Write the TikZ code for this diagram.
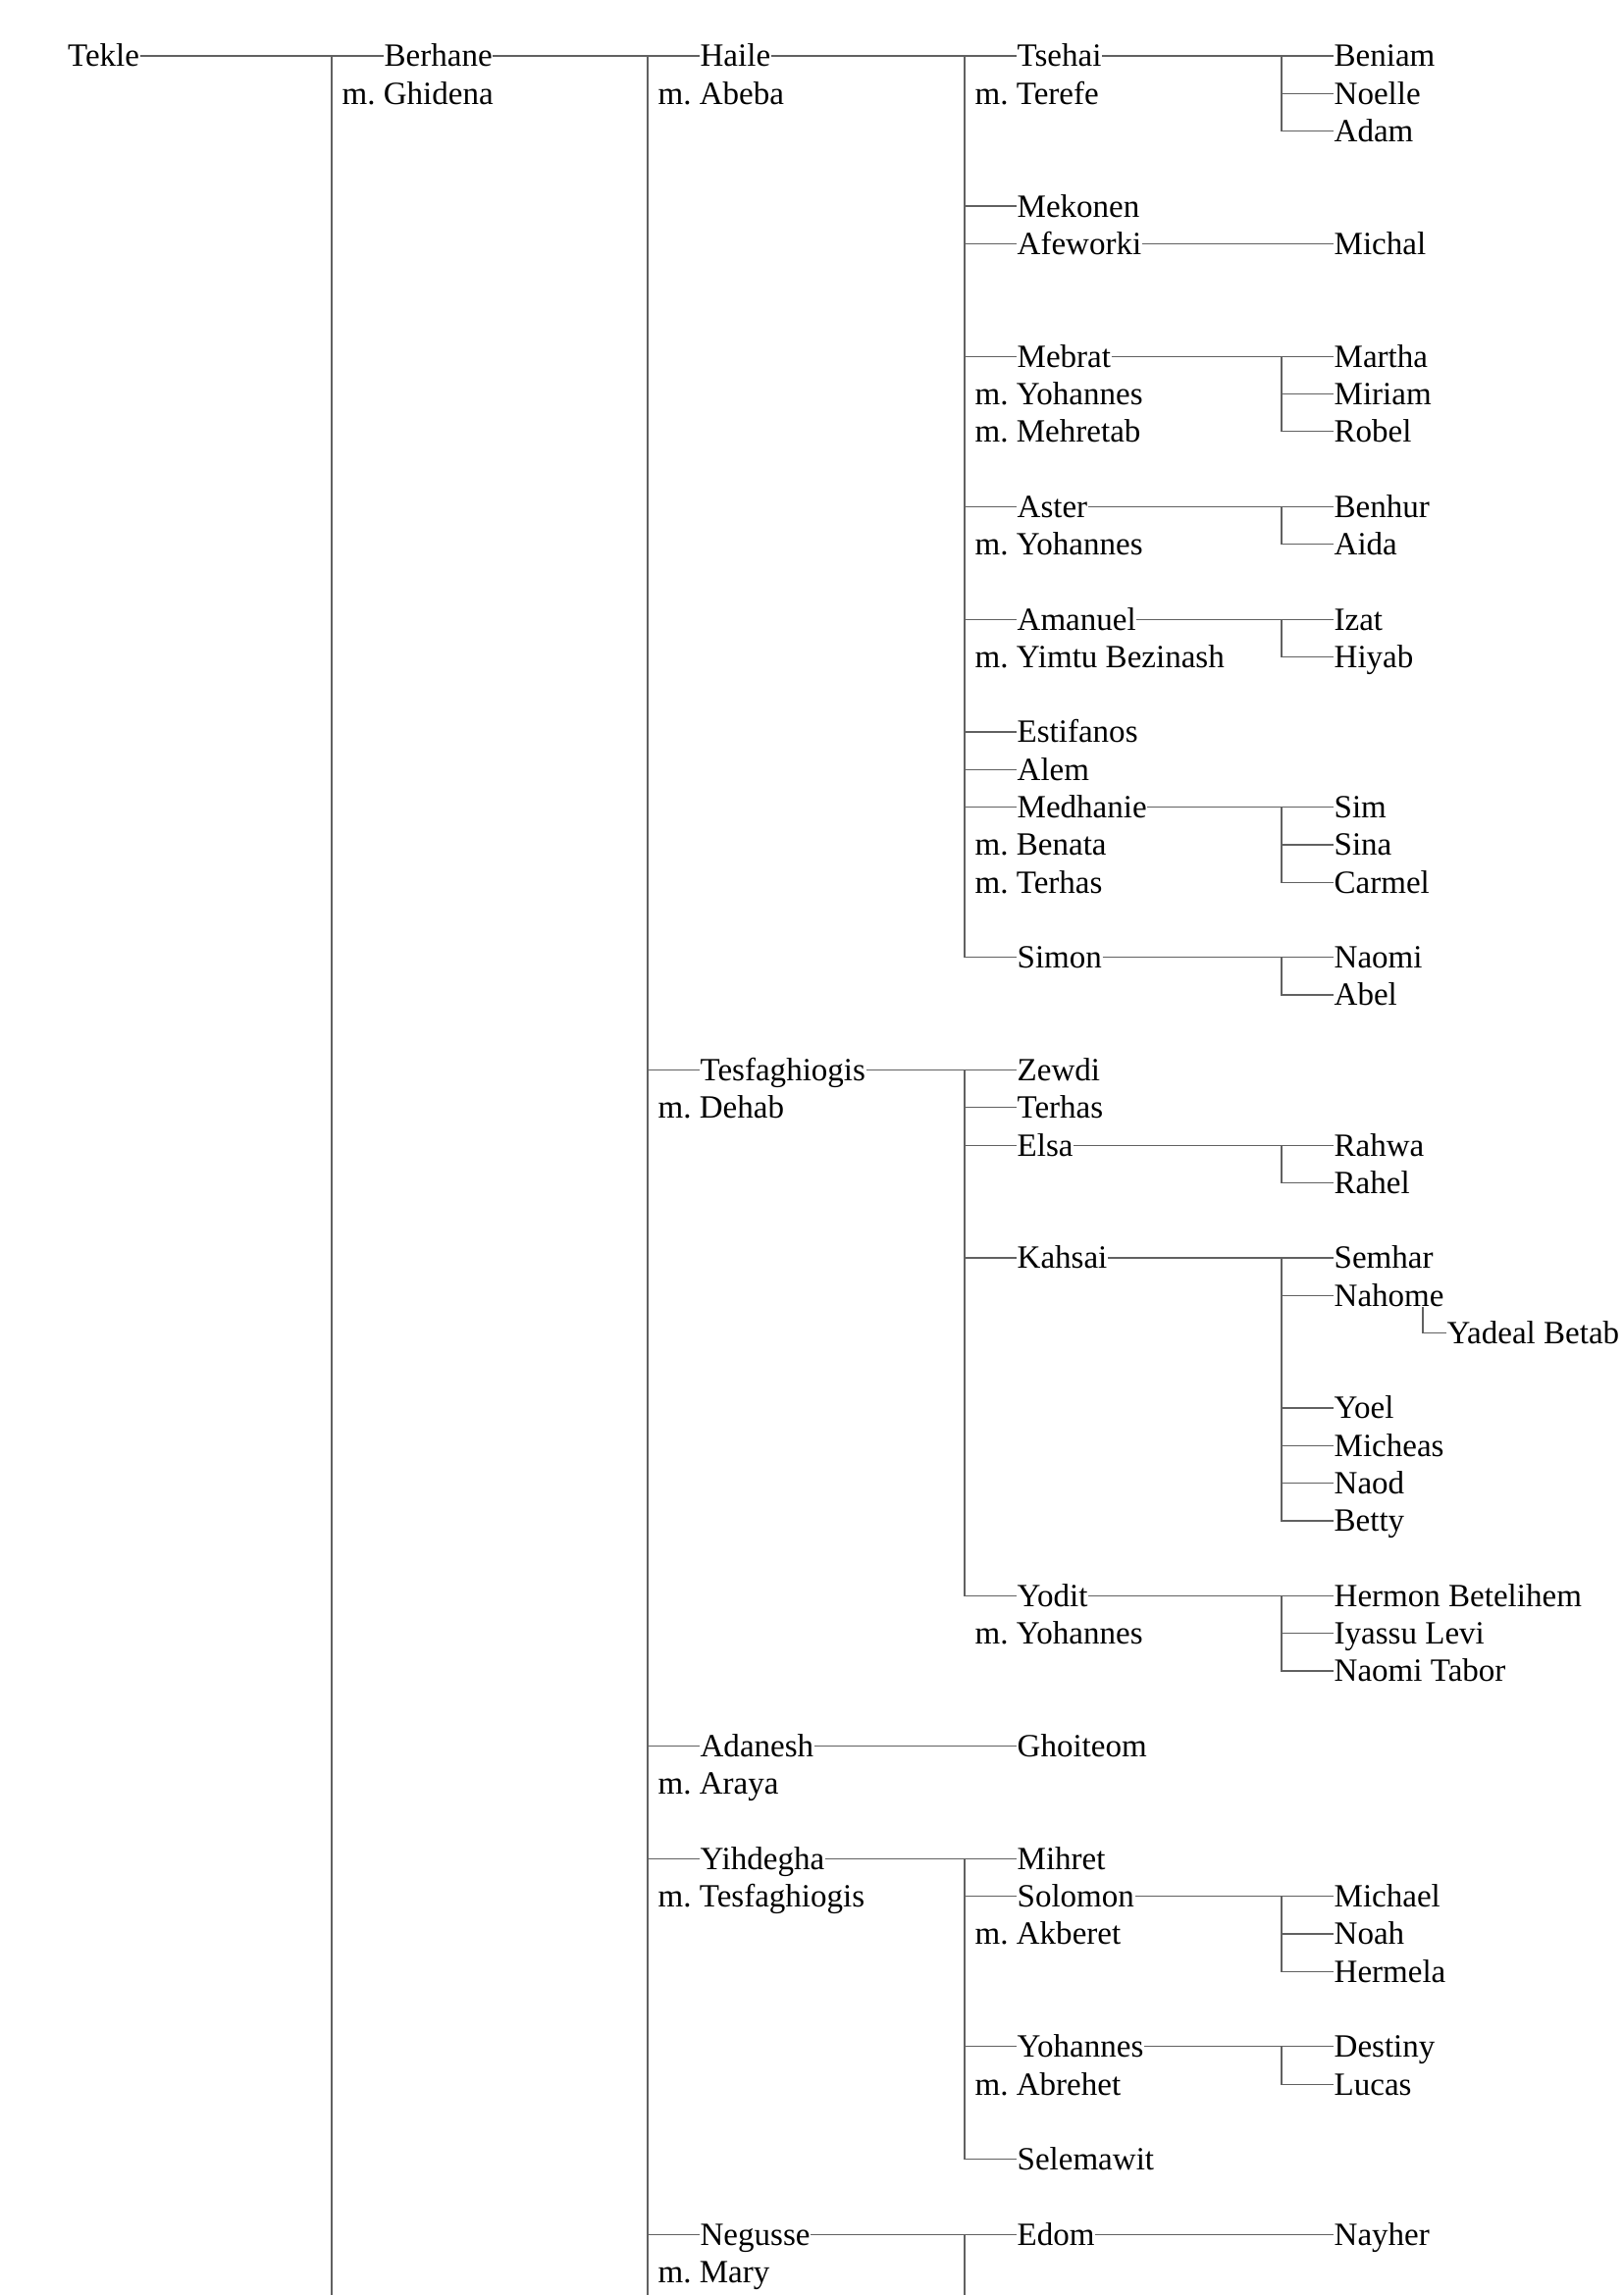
\documentclass[tikz,border=0pt]{standalone}
\usepackage{fontspec}
\setmainfont{Liberation Serif}

\begin{document}
\begin{tikzpicture}[x=1cm, y=-0.3828cm, line width=0.35pt, color=black!62,
		every node/.style={inner sep=0pt, anchor=west, text=black, text height=6.2pt, text depth=0pt, font=\fontsize{9.4pt}{11pt}\selectfont\frenchspacing}]
		\useasboundingbox (0,-1.489) rectangle (16.54,59.613);
		\coordinate (end) at (0,59.613);

		\node (tekle) at (0.685,0) {Tekle};

		\node (berhane) at (3.91,0) {Berhane};
		\node (berhanem) at (3.48,1) {m. Ghidena};

		\node (haile) at (7.13,0) {Haile};
		\node (hailem) at (6.70,1) {m. Abeba};
		\node (tesfaghiogis) at (7.13,27) {Tesfaghiogis};
		\node (tesfaghiogism) at (6.70,28) {m. Dehab};
		\node (adanesh) at (7.13,45) {Adanesh};
		\node (adaneshm) at (6.70,46) {m. Araya};
		\node (yihdegha) at (7.13,48) {Yihdegha};
		\node (yihdegham) at (6.70,49) {m. Tesfaghiogis};
		\node (negusse) at (7.13,58) {Negusse};
		\node (negussem) at (6.70,59) {m. Mary};

		\node (tsehai) at (10.36,0) {Tsehai};
		\node (tsehaim) at (9.93,1) {m. Terefe};
		\node (mekonen) at (10.36,4) {Mekonen};
		\node (afeworki) at (10.36,5) {Afeworki};
		\node (mebrat) at (10.36,8) {Mebrat};
		\node (mebratm1) at (9.93,9) {m. Yohannes};
		\node (mebratm2) at (9.93,10) {m. Mehretab};
		\node (aster) at (10.36,12) {Aster};
		\node (asterm) at (9.93,13) {m. Yohannes};
		\node (amanuel) at (10.36,15) {Amanuel};
		\node (amanuelm) at (9.93,16) {m. Yimtu Bezinash};
		\node (estifanos) at (10.36,18) {Estifanos};
		\node (alem) at (10.36,19) {Alem};
		\node (medhanie) at (10.36,20) {Medhanie};
		\node (medhaniem1) at (9.93,21) {m. Benata};
		\node (medhaniem2) at (9.93,22) {m. Terhas};
		\node (simon) at (10.36,24) {Simon};
		\node (zewdi) at (10.36,27) {Zewdi};
		\node (terhas) at (10.36,28) {Terhas};
		\node (elsa) at (10.36,29) {Elsa};
		\node (kahsai) at (10.36,32) {Kahsai};
		\node (yodit) at (10.36,41) {Yodit};
		\node (yoditm) at (9.93,42) {m. Yohannes};
		\node (ghoiteom) at (10.36,45) {Ghoiteom};
		\node (mihret) at (10.36,48) {Mihret};
		\node (solomon) at (10.36,49) {Solomon};
		\node (solomonm) at (9.93,50) {m. Akberet};
		\node (yohannes) at (10.36,53) {Yohannes};
		\node (yohannesm) at (9.93,54) {m. Abrehet};
		\node (selemawit) at (10.36,56) {Selemawit};
		\node (edom) at (10.36,58) {Edom};

		\node (beniam) at (13.59,0) {Beniam};
		\node (noelle) at (13.59,1) {Noelle};
		\node (adam) at (13.59,2) {Adam};
		\node (michal) at (13.59,5) {Michal};
		\node (martha) at (13.59,8) {Martha};
		\node (miriam) at (13.59,9) {Miriam};
		\node (robel) at (13.59,10) {Robel};
		\node (benhur) at (13.59,12) {Benhur};
		\node (aida) at (13.59,13) {Aida};
		\node (izat) at (13.59,15) {Izat};
		\node (hiyab) at (13.59,16) {Hiyab};
		\node (sim) at (13.59,20) {Sim};
		\node (sina) at (13.59,21) {Sina};
		\node (carmel) at (13.59,22) {Carmel};
		\node (naomi) at (13.59,24) {Naomi};
		\node (abel) at (13.59,25) {Abel};
		\node (rahwa) at (13.59,29) {Rahwa};
		\node (rahel) at (13.59,30) {Rahel};
		\node (semhar) at (13.59,32) {Semhar};
		\node (nahome) at (13.59,33) {Nahome};
		\node (yoel) at (13.59,36) {Yoel};
		\node (micheas) at (13.59,37) {Micheas};
		\node (naod) at (13.59,38) {Naod};
		\node (betty) at (13.59,39) {Betty};
		\node (hermon) at (13.59,41) {Hermon Betelihem};
		\node (iyassu) at (13.59,42) {Iyassu Levi};
		\node (naomitabor) at (13.59,43) {Naomi Tabor};
		\node (michael) at (13.59,49) {Michael};
		\node (noah) at (13.59,50) {Noah};
		\node (hermela) at (13.59,51) {Hermela};
		\node (destiny) at (13.59,53) {Destiny};
		\node (lucas) at (13.59,54) {Lucas};
		\node (nayher) at (13.59,58) {Nayher};

		\node (yadeal) at (14.74,34) {Yadeal Betab};

		\draw (tekle) -- (berhane);
		\draw ([xshift=-5.3mm]berhane.west) -- ([xshift=-5.3mm]berhane.west |- end);

		\draw (berhane) -- (haile);
		\draw ([xshift=-5.3mm]haile.west) -- ([xshift=-5.3mm]haile.west |- end);
		\draw ([xshift=-5.3mm]tesfaghiogis.west) -- (tesfaghiogis.west);
		\draw ([xshift=-5.3mm]adanesh.west) -- (adanesh.west);
		\draw ([xshift=-5.3mm]yihdegha.west) -- (yihdegha.west);
		\draw ([xshift=-5.3mm]negusse.west) -- (negusse.west);

		\draw (haile) -- (tsehai);
		\draw ([xshift=-5.3mm]tsehai.west) |- (simon.west);
		\draw ([xshift=-5.3mm]mekonen.west) -- (mekonen.west);
		\draw ([xshift=-5.3mm]afeworki.west) -- (afeworki.west);
		\draw ([xshift=-5.3mm]mebrat.west) -- (mebrat.west);
		\draw ([xshift=-5.3mm]aster.west) -- (aster.west);
		\draw ([xshift=-5.3mm]amanuel.west) -- (amanuel.west);
		\draw ([xshift=-5.3mm]estifanos.west) -- (estifanos.west);
		\draw ([xshift=-5.3mm]alem.west) -- (alem.west);
		\draw ([xshift=-5.3mm]medhanie.west) -- (medhanie.west);

		\draw (tsehai) -- (beniam);
		\draw ([xshift=-5.3mm]beniam.west) |- (adam.west);
		\draw ([xshift=-5.3mm]noelle.west) -- (noelle.west);
		\draw (afeworki) -- (michal);
		\draw (mebrat) -- (martha);
		\draw ([xshift=-5.3mm]martha.west) |- (robel.west);
		\draw ([xshift=-5.3mm]miriam.west) -- (miriam.west);
		\draw (aster) -- (benhur);
		\draw ([xshift=-5.3mm]benhur.west) |- (aida.west);
		\draw (amanuel) -- (izat);
		\draw ([xshift=-5.3mm]izat.west) |- (hiyab.west);
		\draw (medhanie) -- (sim);
		\draw ([xshift=-5.3mm]sim.west) |- (carmel.west);
		\draw ([xshift=-5.3mm]sina.west) -- (sina.west);
		\draw (simon) -- (naomi);
		\draw ([xshift=-5.3mm]naomi.west) |- (abel.west);

		\draw (tesfaghiogis) -- (zewdi);
		\draw ([xshift=-5.3mm]zewdi.west) |- (yodit.west);
		\draw ([xshift=-5.3mm]terhas.west) -- (terhas.west);
		\draw ([xshift=-5.3mm]elsa.west) -- (elsa.west);
		\draw ([xshift=-5.3mm]kahsai.west) -- (kahsai.west);
		\draw (elsa) -- (rahwa);
		\draw ([xshift=-5.3mm]rahwa.west) |- (rahel.west);
		\draw (kahsai) -- (semhar);
		\draw ([xshift=-5.3mm]semhar.west) |- (betty.west);
		\draw ([xshift=-5.3mm]nahome.west) -- (nahome.west);
		\draw ([xshift=-5.3mm]yoel.west) -- (yoel.west);
		\draw ([xshift=-5.3mm]micheas.west) -- (micheas.west);
		\draw ([xshift=-5.3mm]naod.west) -- (naod.west);
		\draw ([xshift=-2.4mm]yadeal.west |- nahome.south) |- (yadeal.west);
		\draw (yodit) -- (hermon);
		\draw ([xshift=-5.3mm]hermon.west) |- (naomitabor.west);
		\draw ([xshift=-5.3mm]iyassu.west) -- (iyassu.west);

		\draw (adanesh) -- (ghoiteom);

		\draw (yihdegha) -- (mihret);
		\draw ([xshift=-5.3mm]mihret.west) |- (selemawit.west);
		\draw ([xshift=-5.3mm]solomon.west) -- (solomon.west);
		\draw ([xshift=-5.3mm]yohannes.west) -- (yohannes.west);
		\draw (solomon) -- (michael);
		\draw ([xshift=-5.3mm]michael.west) |- (hermela.west);
		\draw ([xshift=-5.3mm]noah.west) -- (noah.west);
		\draw (yohannes) -- (destiny);
		\draw ([xshift=-5.3mm]destiny.west) |- (lucas.west);

		\draw (negusse) -- (edom);
		\draw ([xshift=-5.3mm]edom.west) -- ([xshift=-5.3mm]edom.west |- end);
		\draw (edom) -- (nayher);
	\end{tikzpicture}
\end{document}
